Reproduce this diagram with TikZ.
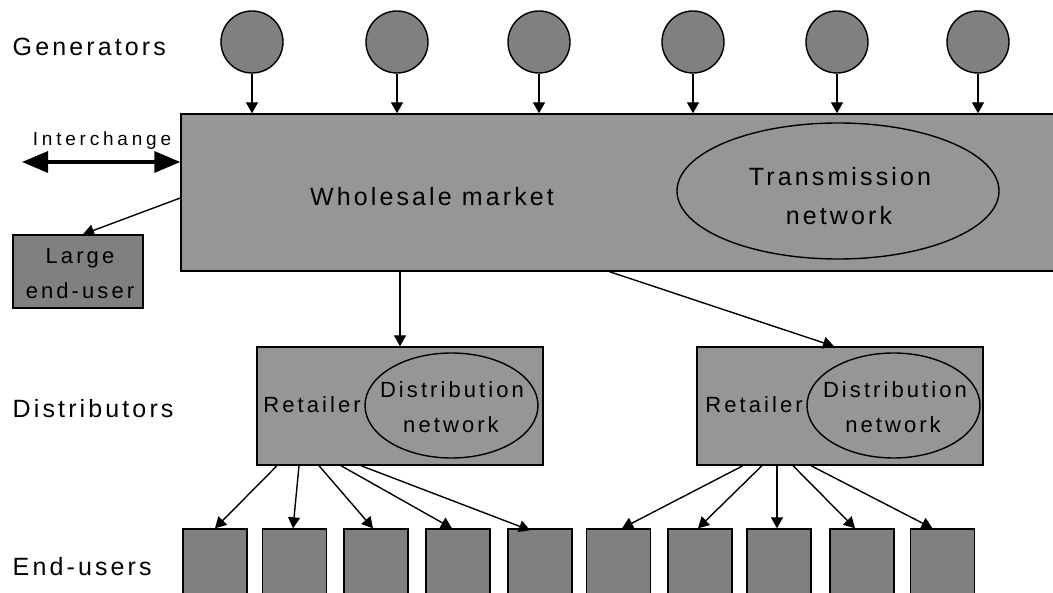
\documentclass[tikz,border=0pt]{standalone}
\usepackage{fontspec}
\setmainfont{Liberation Sans}[LetterSpace=12.5]
\newfontfamily\midfont{Liberation Sans}[LetterSpace=14]
\newfontfamily\widefont{Liberation Sans}[LetterSpace=20]
\usetikzlibrary{shapes.geometric,arrows.meta,calc}
\definecolor{fmarket}{HTML}{969696}
\definecolor{fuser}{HTML}{808080}
\definecolor{sline}{HTML}{000000}

\begin{document}
\begin{tikzpicture}[x=1pt,y=-1pt,line width=1.4pt,
  box/.style={draw=sline,fill=fmarket,inner sep=0pt},
  gen/.style={circle,draw=sline,fill=fuser,minimum size=62pt,inner sep=0pt},
  enduser/.style={draw=sline,fill=fuser,minimum width=64pt,minimum height=70pt,inner sep=0pt},
  net/.style={ellipse,draw=sline,fill=fmarket,inner sep=0pt},
  big/.style={font=\fontsize{25}{30}\selectfont,inner sep=0pt},
  mid/.style={font=\fontsize{22}{26}\midfont,inner sep=0pt},
  flow/.style={draw=sline,-{Triangle[length=11pt,width=12pt]}},
  xchg/.style={draw=sline,{Triangle[length=26pt,width=21pt]}-{Triangle[length=26pt,width=21pt]},line width=3.3pt}]
\useasboundingbox (0,0) rectangle (1053,593);
% row labels
\node[big,anchor=base west] (lgen) at (12,56) {Generators};
\node[big,anchor=base west] (ldist) at (12,418) {Distributors};
\node[big,anchor=base west] (lend) at (12,575) {End-users};
% generators
\foreach \x [count=\i] in {252,397,539,693,837,978}
  \node[gen] (g\i) at (\x,42) {};
% wholesale market
\node[box,minimum width=889pt,minimum height=157pt] (whole) at (625.5,192.5) {};
\node[big,anchor=base] (wtxt) at (432,206) {Wholesale market};
\node[net,minimum width=322pt,minimum height=136pt] (trans) at (838,191) {};
\node[big,anchor=base] (ttop) at (840,186) {Transmission};
\node[big,anchor=base] (tbot) at (839,225) {network};
\foreach \i in {1,...,6}
  \draw[flow] (g\i.south) -- (g\i.south |- whole.north);
% interchange
\coordinate (ext) at (22,162);
\draw[xchg] (ext) -- ([yshift=30.5pt]whole.west);
\node[inner sep=0pt,anchor=base,font=\fontsize{19}{22}\widefont] (xtxt) at (102,146) {Interchange};
% large end-user
\node[draw=sline,fill=fuser,minimum width=130pt,minimum height=73pt,inner sep=0pt] (large) at (78,271.5) {};
\node[mid,anchor=base] (ltop) at (80,264) {Large};
\node[mid,anchor=base] (lbot) at (80,299) {end-user};
\draw[flow] ([yshift=-5.5pt]whole.west) -- ([xshift=5pt]large.north);
% distributors
\node[box,minimum width=286pt,minimum height=118pt] (d1) at (400,406) {};
\node[net,minimum width=173pt,minimum height=105pt] (n1) at (451.5,405.5) {};
\node[mid,anchor=base] (r1) at (312,413) {Retailer};
\node[mid,anchor=base] (n1top) at (452,398) {Distribution};
\node[mid,anchor=base] (n1bot) at (451,433) {network};
\node[box,minimum width=286pt,minimum height=118pt] (d2) at (840,406) {};
\node[net,minimum width=173pt,minimum height=105pt] (n2) at (893.5,405.5) {};
\node[mid,anchor=base] (r2) at (754,413) {Retailer};
\node[mid,anchor=base] (n2top) at (895,398) {Distribution};
\node[mid,anchor=base] (n2bot) at (893,433) {network};
\draw[flow] (d1.north |- whole.south) -- (d1.north);
\draw[flow] ([xshift=-16pt]whole.south) -- ([xshift=-6pt]d2.north);
% end-users
\foreach \x [count=\i] in {215,294.5,376,458,540,618.5,700,779,862,942.5}
  \node[enduser] (u\i) at (\x,564) {};
\draw[flow] ([xshift=-123pt]d1.south) -- (u1.north);
\draw[flow] ([xshift=-101pt]d1.south) -- ([xshift=-1.5pt]u2.north);
\draw[flow] ([xshift=-81pt]d1.south) -- ([xshift=-3pt]u3.north);
\draw[flow] ([xshift=-59pt]d1.south) -- ([xshift=-6pt]u4.north);
\draw[flow] ([xshift=-39pt]d1.south) -- ([xshift=-10pt,yshift=-2pt]u5.north);
\draw[flow] ([xshift=-97pt]d2.south) -- ([xshift=3.5pt]u6.north);
\draw[flow] ([xshift=-78pt]d2.south) -- ([xshift=-2pt]u7.north);
\draw[flow] ([xshift=-63pt]d2.south) -- ([xshift=-2pt]u8.north);
\draw[flow] ([xshift=-47pt]d2.south) -- ([xshift=-7pt]u9.north);
\draw[flow] ([xshift=-29pt]d2.south) -- ([xshift=-10pt]u10.north);
\end{tikzpicture}
\end{document}
